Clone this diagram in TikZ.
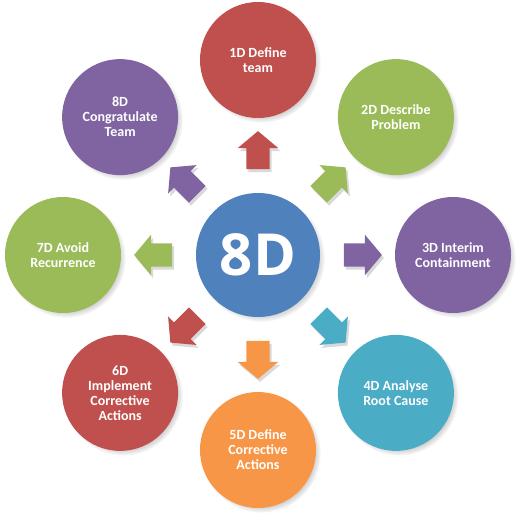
\documentclass[tikz,border=0pt]{standalone}
\usepackage{fontspec}
\setmainfont{Carlito}
\newfontfamily\hubfont{Open Sans}
\usetikzlibrary{shapes.arrows,shadows,fadings}
\definecolor{stagered}{HTML}{C0504D}
\definecolor{stagegreen}{HTML}{9BBB59}
\definecolor{stagepurple}{HTML}{8064A2}
\definecolor{stageteal}{HTML}{4BACC6}
\definecolor{stageorange}{HTML}{F79646}
\definecolor{hubblue}{HTML}{4F81BD}
\tikzset{
  stage/.style={circle,minimum size=116pt,inner sep=0pt,text=white,align=center,
    font=\bfseries\fontsize{14}{15}\selectfont,
    circular drop shadow={shadow xshift=3pt,shadow yshift=-3pt,shadow scale=1.03,opacity=0.5}},
  hub/.style={circle,minimum size=124pt,inner sep=0pt,fill=hubblue,text=white,
    font=\hubfont\bfseries\fontsize{58}{60}\selectfont,
    circular drop shadow={shadow xshift=3pt,shadow yshift=-3pt,shadow scale=1.03,opacity=0.5}},
  blockarrow/.style={single arrow,minimum height=38pt,inner sep=11.5pt,
    single arrow head extend=8.5pt,single arrow tip angle=100,
    drop shadow={shadow xshift=2pt,shadow yshift=-3pt,opacity=0.3}}
}
\begin{document}
\begin{tikzpicture}
 \useasboundingbox (-258pt,-259pt) rectangle (263pt,255pt);
 % hub
 \node[hub] (hub) at (0,0) {8D};
 % arrows
 \node[blockarrow,fill=stagered,rotate=90] (a1) at (90:100pt) {};
 \node[blockarrow,fill=stagegreen,rotate=45] (a2) at (45:100pt) {};
 \node[blockarrow,fill=stagepurple,rotate=0] (a3) at (0:100pt) {};
 \node[blockarrow,fill=stageteal,rotate=-45] (a4) at (-45:100pt) {};
 \node[blockarrow,fill=stageorange,rotate=-90] (a5) at (-90:100pt) {};
 \node[blockarrow,fill=stagered,rotate=-135] (a6) at (-135:100pt) {};
 \node[blockarrow,fill=stagegreen,rotate=180] (a7) at (180:100pt) {};
 \node[blockarrow,fill=stagepurple,rotate=135] (a8) at (135:100pt) {};
 % stages
 \node[stage,fill=stagered] (d1) at (90:195pt) {1D Define\\team};
 \node[stage,fill=stagegreen] (d2) at (45:195pt) {2D Describe\\Problem};
 \node[stage,fill=stagepurple] (d3) at (0:195pt) {3D Interim\\Containment};
 \node[stage,fill=stageteal] (d4) at (-45:195pt) {4D Analyse\\Root Cause};
 \node[stage,fill=stageorange] (d5) at (-90:195pt) {5D Define\\Corrective\\Actions};
 \node[stage,fill=stagered] (d6) at (-135:195pt) {6D\\Implement\\Corrective\\Actions};
 \node[stage,fill=stagegreen] (d7) at (180:195pt) {7D Avoid\\Recurrence};
 \node[stage,fill=stagepurple] (d8) at (135:195pt) {8D\\Congratulate\\Team};
\end{tikzpicture}
\end{document}
